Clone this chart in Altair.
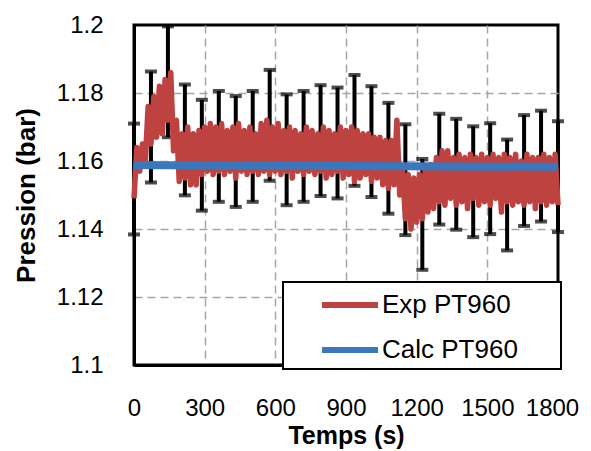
import altair as alt
import pandas as pd

# Experimental pressure (band read as alternating upper/lower envelope), sampled every 12 s
exp_t = list(range(0, 1801, 12))
exp_p = [
    1.149, 1.164, 1.157, 1.165, 1.160, 1.176, 1.165, 1.179, 1.167, 1.182,
    1.168, 1.184, 1.172, 1.186, 1.163, 1.172, 1.154, 1.168, 1.155, 1.170,
    1.153, 1.168, 1.153, 1.169, 1.156, 1.170, 1.157, 1.171, 1.156, 1.170,
    1.157, 1.171, 1.156, 1.169, 1.157, 1.170, 1.155, 1.171, 1.157, 1.169,
    1.156, 1.170, 1.157, 1.168, 1.156, 1.171, 1.157, 1.172, 1.156, 1.170,
    1.157, 1.171, 1.156, 1.169, 1.157, 1.170, 1.155, 1.169, 1.157, 1.168,
    1.156, 1.170, 1.157, 1.169, 1.156, 1.168, 1.157, 1.170, 1.155, 1.169,
    1.156, 1.168, 1.157, 1.170, 1.155, 1.169, 1.156, 1.170, 1.154, 1.169,
    1.155, 1.168, 1.156, 1.168, 1.154, 1.167, 1.155, 1.167, 1.153, 1.166,
    1.152, 1.166, 1.153, 1.172, 1.150, 1.158, 1.143, 1.156, 1.140, 1.155,
    1.142, 1.156, 1.143, 1.157, 1.145, 1.159, 1.146, 1.161, 1.148, 1.163,
    1.147, 1.163, 1.149, 1.161, 1.147, 1.162, 1.148, 1.161, 1.146, 1.162,
    1.149, 1.161, 1.147, 1.162, 1.148, 1.161, 1.147, 1.162, 1.149, 1.161,
    1.145, 1.162, 1.148, 1.161, 1.147, 1.162, 1.148, 1.160, 1.147, 1.162,
    1.148, 1.161, 1.146, 1.161, 1.148, 1.162, 1.147, 1.161, 1.148, 1.162,
    1.147,
]

# Calculated pressure
calc_t = [0, 450, 900, 1350, 1800]
calc_p = [1.1588, 1.1586, 1.1585, 1.1584, 1.1583]

# Error bars (centre values, every 72 s)
err_t = [0, 72, 144, 216, 288, 360, 432, 504, 576, 648, 720, 792, 864,
         936, 1008, 1080, 1152, 1224, 1296, 1368, 1440, 1512, 1584, 1656,
         1728, 1800]
err_center = [1.1547, 1.1700, 1.1833, 1.1662, 1.1617, 1.1643, 1.1628, 1.1643,
              1.1705, 1.1633, 1.1643, 1.1660, 1.1653, 1.1690, 1.1657, 1.1608,
              1.1545, 1.1443, 1.1576, 1.1561, 1.1539, 1.1548, 1.1500, 1.1572,
              1.1585, 1.1554]
err_half = 0.0163

series_names = ["Exp PT960", "Calc PT960"]
series_colors = ["#BE4240", "#3A78BE"]

x_grid = [0, 150, 300, 450, 600, 750, 900, 1050, 1200, 1350, 1500, 1650, 1800]
y_ticks = [1.1, 1.12, 1.14, 1.16, 1.18, 1.2]

exp_df = pd.DataFrame({"t": exp_t, "p": exp_p, "series": series_names[0]})
calc_df = pd.DataFrame({"t": calc_t, "p": calc_p, "series": series_names[1]})
err_df = pd.DataFrame({"t": err_t, "c": err_center})
err_df["lo"] = err_df["c"] - err_half
err_df["hi"] = err_df["c"] + err_half

x_scale = alt.Scale(domain=[0, 1800], nice=False, zero=False)
y_scale = alt.Scale(domain=[1.1, 1.2], nice=False, zero=False)

x_axis = alt.Axis(
    values=x_grid, format="d",
    labelExpr="datum.value % 300 == 0 ? datum.label : ''",
    grid=True, ticks=False, domain=True, domainColor="black", domainWidth=3,
    gridOpacity={"condition": {"test": "datum.value == 0 || datum.value == 1800",
                               "value": 0}, "value": 1},
    labelOffset={"condition": {"test": "datum.value == 1800", "value": -6},
                 "value": 0},
    labelPadding=31, labelFontSize=24, labelFlush=False,
    title="Temps (s)", titleFontSize=25, titleFontWeight="bold",
    titleX=212, titleY=78, titleBaseline="alphabetic", titleAlign="center",
)
y_axis = alt.Axis(
    values=y_ticks, format=".2~f", grid=True, ticks=False,
    domain=True, domainColor="black", domainWidth=3,
    gridOpacity={"condition": {"test": "datum.value < 1.105 || datum.value > 1.195",
                               "value": 0}, "value": 1},
    labelPadding=31, labelFontSize=24, labelFlush=False,
    title="Pression (bar)", titleFontSize=26, titleFontWeight="bold",
    titleX=-108, titleY=170, titleAngle=270, titleBaseline="middle",
    titleAlign="center",
)

X = alt.X("t:Q", scale=x_scale, axis=x_axis)
Y = alt.Y("p:Q", scale=y_scale, axis=y_axis)

legend = alt.Legend(
    title="\u00a0", titleOrient="right", titlePadding=37, titleFontSize=2,
    orient="none", legendX=149, legendY=257,
    symbolType="M-2,0L2,0", symbolSize=784, symbolStrokeWidth=6,
    labelFontSize=26, labelFont="Liberation Sans", labelColor="black",
    padding=6, symbolOffset=44, labelOffset=15, rowPadding=15,
    strokeColor="black", fillColor="white", labelLimit=400,
)
color = alt.Color("series:N",
                  scale=alt.Scale(domain=series_names, range=series_colors),
                  legend=legend)

err_rules = alt.Chart(err_df).mark_rule(color="black", strokeWidth=4).encode(
    x=alt.X("t:Q", scale=x_scale, axis=x_axis),
    y=alt.Y("lo:Q", scale=y_scale, axis=y_axis),
    y2="hi:Q",
)
cap_hi = alt.Chart(err_df).mark_tick(color="black", thickness=4, size=12,
                                     orient="horizontal").encode(
    x=alt.X("t:Q", scale=x_scale), y=alt.Y("hi:Q", scale=y_scale))
cap_lo = alt.Chart(err_df).mark_tick(color="black", thickness=4, size=12,
                                     orient="horizontal").encode(
    x=alt.X("t:Q", scale=x_scale), y=alt.Y("lo:Q", scale=y_scale))

exp_line = alt.Chart(exp_df).mark_line(strokeWidth=5.5, strokeJoin="round").encode(
    x=X, y=Y, color=color)
calc_line = alt.Chart(calc_df).mark_line(strokeWidth=8).encode(
    x=X, y=Y, color=color)

chart = alt.layer(err_rules, cap_hi, cap_lo, exp_line, calc_line).properties(
    width=424, height=340,
    autosize=alt.AutoSizeParams(type="none"),
    padding={"left": 126, "top": 17, "right": 24, "bottom": 84},
).configure_view(
    stroke="black", strokeWidth=3,
).configure_axis(
    labelFont="Liberation Sans", titleFont="Liberation Sans",
    labelColor="black", titleColor="black",
    gridColor="#A6A6A6", gridDash=[8, 5], gridWidth=1.5,
).configure_legend(
    strokeWidth=2,
)

chart.save("out.html", embed_options={"renderer": "svg", "actions": False})
